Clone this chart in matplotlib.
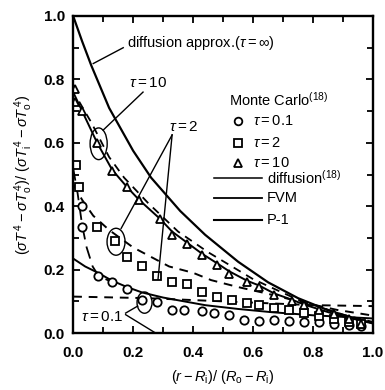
import matplotlib
matplotlib.use("Agg")
import matplotlib.pyplot as plt
from matplotlib.patches import Ellipse
from matplotlib.ticker import MultipleLocator

plt.rcParams['font.family'] = ['Liberation Sans', 'DejaVu Sans']
plt.rcParams['mathtext.fontset'] = 'custom'
plt.rcParams['mathtext.rm'] = 'Liberation Sans'
plt.rcParams['mathtext.it'] = 'Liberation Sans:italic'
plt.rcParams['mathtext.bf'] = 'Liberation Sans:bold'

# diffusion approximation, tau = infinity
inf_x = [0.0, 0.03, 0.06, 0.12, 0.2, 0.26, 0.357, 0.44, 0.55, 0.65, 0.75, 0.85, 0.95, 1.0]
inf_y = [1.0, 0.92, 0.845, 0.71, 0.575, 0.49, 0.385, 0.31, 0.225, 0.16, 0.11, 0.072, 0.043, 0.032]

# tau = 10
t10_line_x = [0.0, 0.03, 0.08, 0.13, 0.18, 0.22, 0.29, 0.33, 0.38, 0.43, 0.48, 0.52, 0.58,
              0.62, 0.67, 0.73, 0.77, 0.82, 0.87, 0.92, 1.0]
t10_line_y = [0.76, 0.70, 0.60, 0.515, 0.46, 0.42, 0.36, 0.32, 0.285, 0.25, 0.22, 0.195, 0.165,
              0.15, 0.125, 0.105, 0.09, 0.075, 0.06, 0.048, 0.03]
t10_dash_x = [0.02, 0.06, 0.12, 0.17, 0.25, 0.35, 0.45, 0.6, 0.75, 0.9, 1.0]
t10_dash_y = [0.73, 0.665, 0.555, 0.49, 0.41, 0.32, 0.255, 0.17, 0.105, 0.058, 0.035]
t10_mc_x = [0.005, 0.005, 0.03, 0.08, 0.13, 0.18, 0.22, 0.29, 0.33, 0.38, 0.43, 0.48, 0.52,
            0.58, 0.62, 0.67, 0.73, 0.77, 0.82, 0.87, 0.92, 0.96]
t10_mc_y = [0.77, 0.73, 0.70, 0.60, 0.51, 0.46, 0.42, 0.36, 0.31, 0.28, 0.245, 0.215, 0.185,
            0.16, 0.145, 0.12, 0.10, 0.09, 0.073, 0.06, 0.045, 0.03]

# tau = 2
t2_dash_x = [0.0, 0.03, 0.067, 0.12, 0.2, 0.26, 0.32, 0.40, 0.46, 0.55, 0.64, 0.76, 0.88, 1.0]
t2_dash_y = [0.47, 0.42, 0.37, 0.325, 0.27, 0.24, 0.21, 0.19, 0.167, 0.145, 0.126, 0.098, 0.073, 0.055]
t2_mc_x = [0.01, 0.02, 0.08, 0.14, 0.18, 0.23, 0.28, 0.33, 0.38, 0.43, 0.48, 0.53, 0.58,
           0.62, 0.67, 0.72, 0.77, 0.82, 0.87, 0.92, 0.96]
t2_mc_y = [0.53, 0.46, 0.335, 0.29, 0.24, 0.21, 0.18, 0.16, 0.155, 0.13, 0.115, 0.105, 0.095,
           0.09, 0.08, 0.073, 0.063, 0.055, 0.045, 0.035, 0.028]

# tau = 0.1
t01_line_x = [0.0, 0.04, 0.083, 0.13, 0.18, 0.23, 0.3, 0.37, 0.44, 0.55, 0.66, 0.8, 0.9, 1.0]
t01_line_y = [0.235, 0.21, 0.19, 0.165, 0.145, 0.128, 0.112, 0.1, 0.088, 0.076, 0.066, 0.056, 0.051, 0.046]
t01_long_x = [0.0, 0.015, 0.03, 0.045, 0.065, 0.085, 0.12]
t01_long_y = [0.52, 0.44, 0.34, 0.27, 0.21, 0.18, 0.165]
t01_dash_x = [0.0, 0.25, 0.5, 0.8, 1.0]
t01_dash_y = [0.115, 0.11, 0.10, 0.088, 0.085]
t01_mc_x = [0.03, 0.03, 0.083, 0.13, 0.18, 0.23, 0.28, 0.33, 0.37, 0.43, 0.47, 0.52, 0.57,
            0.62, 0.67, 0.72, 0.77, 0.82, 0.87, 0.92, 0.96]
t01_mc_y = [0.40, 0.335, 0.18, 0.16, 0.14, 0.105, 0.098, 0.073, 0.073, 0.07, 0.063, 0.057, 0.041,
            0.038, 0.04, 0.038, 0.035, 0.035, 0.03, 0.025, 0.022]

fig = plt.figure(figsize=(3.85, 3.90), dpi=100)
ax = fig.add_axes([0.19, 0.146, 0.779, 0.813])

k = 'black'
dash = (0, (4.5, 3.5))
ax.plot(inf_x, inf_y, color=k, lw=1.6)
ax.plot(t10_line_x, t10_line_y, color=k, lw=1.4)
ax.plot(t10_dash_x, t10_dash_y, color=k, lw=1.3, ls=dash)
ax.plot(t2_dash_x, t2_dash_y, color=k, lw=1.4, ls=dash)
ax.plot(t01_line_x, t01_line_y, color=k, lw=1.4)
ax.plot(t01_long_x, t01_long_y, color=k, lw=1.3, ls=(0, (7, 4)))
ax.plot(t01_dash_x, t01_dash_y, color=k, lw=1.4, ls=dash)

mk = dict(ls='none', mfc='white', mec=k, mew=1.3)
ax.plot(t01_mc_x, t01_mc_y, marker='o', ms=6, **mk)
ax.plot(t2_mc_x, t2_mc_y, marker='s', ms=6, **mk)
ax.plot(t10_mc_x, t10_mc_y, marker='^', ms=6, **mk)

# ellipses and pointers
for cx, cy, w, h in [(0.085, 0.597, 0.057, 0.10), (0.143, 0.288, 0.06, 0.085),
                     (0.238, 0.096, 0.05, 0.067)]:
    ax.add_patch(Ellipse((cx, cy), w, h, fill=False, ec=k, lw=1.0))
ax.plot([0.167, 0.067], [0.90, 0.85], color=k, lw=1.0)
ax.plot([0.233, 0.10], [0.76, 0.64], color=k, lw=1.0)
ax.plot([0.33, 0.16], [0.625, 0.33], color=k, lw=1.0)
ax.plot([0.33, 0.283], [0.625, 0.17], color=k, lw=1.0)
ax.plot([0.175, 0.215], [0.063, 0.085], color=k, lw=1.0)
ax.plot([0.175, 0.275], [0.058, 0.0], color=k, lw=1.0)

fs = 10.5
ax.text(0.18, 0.915, r'diffusion approx.($\tau = \infty$)', fontsize=fs, va='center')
ax.text(0.25, 0.79, r'$\tau = 10$', fontsize=11, ha='center', va='center')
ax.text(0.37, 0.65, r'$\tau = 2$', fontsize=11, ha='center', va='center')
ax.text(0.095, 0.05, r'$\tau = 0.1$', fontsize=11, ha='center', va='center')

# legend
ax.text(0.52, 0.735, r'Monte Carlo$^{(18)}$', fontsize=fs, va='center')
for yy, m, lab in [(0.67, 'o', r'$\tau = 0.1$'), (0.60, 's', r'$\tau = 2$'),
                   (0.535, '^', r'$\tau = 10$')]:
    ax.plot([0.55], [yy], marker=m, ms=5.5, **mk)
    ax.text(0.60, yy, lab, fontsize=fs, va='center')
for yy, lab, lw in [(0.49, r'diffusion$^{(18)}$', 1.1), (0.425, 'FVM', 1.3), (0.357, 'P-1', 1.5)]:
    ax.plot([0.47, 0.63], [yy, yy], color=k, lw=lw)
    ax.text(0.645, yy, lab, fontsize=fs, va='center')

ax.set_xlim(0, 1.0)
ax.set_ylim(0, 1.0)
ax.xaxis.set_major_locator(MultipleLocator(0.2))
ax.yaxis.set_major_locator(MultipleLocator(0.2))
ax.xaxis.set_minor_locator(MultipleLocator(0.1))
ax.yaxis.set_minor_locator(MultipleLocator(0.1))
ax.tick_params(which='both', direction='in', top=True, right=True, width=1.3)
ax.tick_params(which='major', length=5)
ax.tick_params(which='minor', length=4)
ax.tick_params(axis='x', pad=9, labelsize=11)
ax.tick_params(axis='y', pad=6, labelsize=11)
for lbl in ax.get_xticklabels() + ax.get_yticklabels():
    lbl.set_fontweight('bold')
for s in ax.spines.values():
    s.set_linewidth(1.7)

ax.set_xlabel(r'$(r - R_{\rm i})/\ (R_{\rm o} - R_{\rm i})$', fontsize=10.5, labelpad=6)
ax.set_ylabel(r'$(\sigma T^{\,4} - \sigma T_{\rm o}^{\,4})/\ (\sigma T_{\rm i}^{\,4} - \sigma T_{\rm o}^{\,4})$',
              fontsize=10.5, labelpad=6)

fig.savefig('out.png', dpi=100)
